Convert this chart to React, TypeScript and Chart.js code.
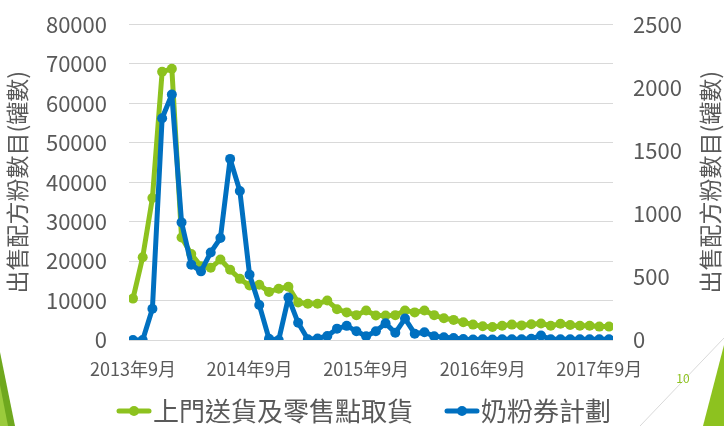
import React, { useEffect, useRef } from "react";
import { Chart, registerables } from "chart.js";

Chart.register(...registerables);

// Months from 2013年9月 to 2017年10月 (50 monthly points)
const months: string[] = [];
for (let i = 0; i < 50; i++) {
  const m = ((8 + i) % 12) + 1;
  const y = 2013 + Math.floor((8 + i) / 12);
  months.push(`${y}年${m}月`);
}
const xTickIndexes = [0, 12, 24, 36, 48];

const greenLabel = "上門送貨及零售點取貨";
const blueLabel = "奶粉券計劃";
const axisTitle = "出售配方粉數目(罐數)";

// 上門送貨及零售點取貨 (left axis)
const greenValues = [
  10500, 21000, 36000, 68000, 68800, 26000, 21800, 18700, 18300, 20400,
  17800, 15500, 13800, 14000, 12200, 13000, 13500, 9500, 9200, 9200,
  10000, 7800, 7000, 6300, 7500, 6200, 6200, 6300, 7500, 7000,
  7500, 6300, 5500, 5100, 4500, 3900, 3500, 3300, 3600, 3900,
  3700, 4000, 4200, 3600, 4100, 3800, 3600, 3600, 3400, 3400,
];

// 奶粉券計劃 (right axis)
const blueValues = [
  0, 0, 248, 1757, 1945, 932, 597, 544, 694, 808,
  1435, 1180, 518, 278, 10, 0, 336, 136, 6, 12,
  32, 90, 112, 70, 30, 70, 132, 57, 170, 50,
  62, 30, 22, 15, 8, 3, 5, 3, 5, 5,
  5, 10, 35, 5, 5, 5, 5, 5, 5, 5,
];

const leftTicks = { min: 0, max: 80000, step: 10000 };
const rightTicks = { min: 0, max: 2500, step: 500 };

const GREEN = "#8DC21F";
const BLUE = "#0070C0";
const TEXT = "#595959";
const FONT = '"Noto Sans CJK TC", "Noto Sans", sans-serif';

const overlayPlugin = {
  id: "overlay",
  afterDraw(chart: any) {
    const ctx = chart.ctx as CanvasRenderingContext2D;
    const area = chart.chartArea;
    ctx.save();
    // right axis title, rotated like the left one
    ctx.font = `23px ${FONT}`;
    ctx.fillStyle = TEXT;
    ctx.textAlign = "center";
    ctx.textBaseline = "middle";
    ctx.translate(710, (area.top + area.bottom) / 2);
    ctx.rotate(-Math.PI / 2);
    ctx.fillText(axisTitle, 0, 0);
    ctx.restore();

    // legend
    ctx.save();
    ctx.font = `26px ${FONT}`;
    ctx.textBaseline = "middle";
    ctx.textAlign = "left";
    const ly = 411;
    let x = 119;
    const items = chart.data.datasets
      .map((d: any) => ({ label: d.label, color: d.borderColor, idx: d.legendIndex }))
      .sort((a: any, b: any) => a.idx - b.idx);
    items.forEach((it: any) => {
      ctx.strokeStyle = it.color;
      ctx.fillStyle = it.color;
      ctx.lineWidth = 5;
      ctx.lineCap = "round";
      ctx.beginPath();
      ctx.moveTo(x, ly);
      ctx.lineTo(x + 30, ly);
      ctx.stroke();
      ctx.beginPath();
      ctx.arc(x + 15, ly, 5, 0, Math.PI * 2);
      ctx.fill();
      x += 34;
      ctx.fillStyle = TEXT;
      ctx.fillText(it.label, x, ly);
      x += ctx.measureText(it.label).width + 34;
    });
    // page number
    ctx.font = `12px ${FONT}`;
    ctx.fillStyle = GREEN;
    ctx.textAlign = "center";
    ctx.fillText("10", 683, 378);
    ctx.restore();
  },
};

export default function App() {
  const ref = useRef<HTMLCanvasElement | null>(null);

  useEffect(() => {
    if (!ref.current) return;
    const chart = new Chart(ref.current, {
      type: "line",
      data: {
        datasets: [
          {
            label: greenLabel,
            legendIndex: 0,
            data: greenValues.map((v, i) => ({ x: i, y: v })),
            yAxisID: "y",
            borderColor: GREEN,
            backgroundColor: GREEN,
            pointBackgroundColor: GREEN,
            pointBorderWidth: 0,
            borderWidth: 5,
            borderJoinStyle: "round",
            borderCapStyle: "round",
            pointRadius: 5,
            tension: 0,
            order: 2,
          } as any,
          {
            label: blueLabel,
            legendIndex: 1,
            data: blueValues.map((v, i) => ({ x: i, y: v })),
            yAxisID: "y1",
            borderColor: BLUE,
            backgroundColor: BLUE,
            pointBackgroundColor: BLUE,
            pointBorderWidth: 0,
            borderWidth: 5,
            borderJoinStyle: "round",
            borderCapStyle: "round",
            pointRadius: 5,
            tension: 0,
            order: 1,
          } as any,
        ],
      },
      options: {
        animation: false,
        responsive: false,
        maintainAspectRatio: false,
        layout: { padding: { top: 24.5, bottom: 0, left: 0, right: 0 } },
        plugins: { legend: { display: false }, tooltip: { enabled: false } },
        scales: {
          x: {
            type: "linear",
            min: -0.41,
            max: months.length - 1 + 0.41,
            grid: { display: false, drawTicks: false },
            border: { display: false },
            afterBuildTicks: (s: any) => {
              s.ticks = xTickIndexes.map((v) => ({ value: v }));
            },
            afterFit: (s: any) => {
              s.height = 86;
              s.paddingLeft = 0;
              s.paddingRight = 0;
            },
            ticks: {
              autoSkip: false,
              maxRotation: 0,
              padding: 18,
              color: TEXT,
              font: { family: FONT, size: 18 },
              callback: (v: any) => months[v as number],
            },
          },
          y: {
            position: "left",
            min: leftTicks.min,
            max: leftTicks.max,
            grid: { color: "#D9D9D9", lineWidth: 1, drawTicks: false },
            border: { display: false },
            afterFit: (s: any) => {
              s.width = 129;
              s.paddingTop = 0;
              s.paddingBottom = 0;
            },
            ticks: {
              stepSize: leftTicks.step,
              padding: 22,
              color: TEXT,
              font: { family: FONT, size: 22 },
              callback: (v: any) => String(v),
            },
            title: {
              display: true,
              text: axisTitle,
              color: TEXT,
              font: { family: FONT, size: 23 },
              padding: { top: 3, bottom: 0 },
            },
          },
          y1: {
            position: "right",
            min: rightTicks.min,
            max: rightTicks.max,
            grid: { display: false, drawTicks: false },
            border: { display: false },
            afterFit: (s: any) => {
              s.width = 111;
              s.paddingTop = 0;
              s.paddingBottom = 0;
            },
            ticks: {
              stepSize: rightTicks.step,
              padding: 20,
              color: TEXT,
              font: { family: FONT, size: 22 },
              callback: (v: any) => String(v),
            },
          },
        },
      } as any,
      plugins: [overlayPlugin],
    });
    return () => chart.destroy();
  }, []);

  return (
    <div style={{ position: "fixed", left: 0, top: 0, width: 724, height: 426, background: "#fff", overflow: "hidden" }}>
      <svg width={724} height={426} style={{ position: "absolute", left: 0, top: 0 }}>
        <polygon points="0,352 15,426 0,426" fill="#6FA81E" />
        <polygon points="0,385 8,426 0,426" fill="#9BCB3C" />
        <line x1="640" y1="426" x2="724" y2="338" stroke="#D9D9D9" strokeWidth="1" />
        <polygon points="724,345 724,426 703,426" fill="#8DC21F" />
      </svg>
      <canvas ref={ref} width={724} height={426} style={{ position: "absolute", left: 0, top: 0, width: 724, height: 426 }} />
    </div>
  );
}
